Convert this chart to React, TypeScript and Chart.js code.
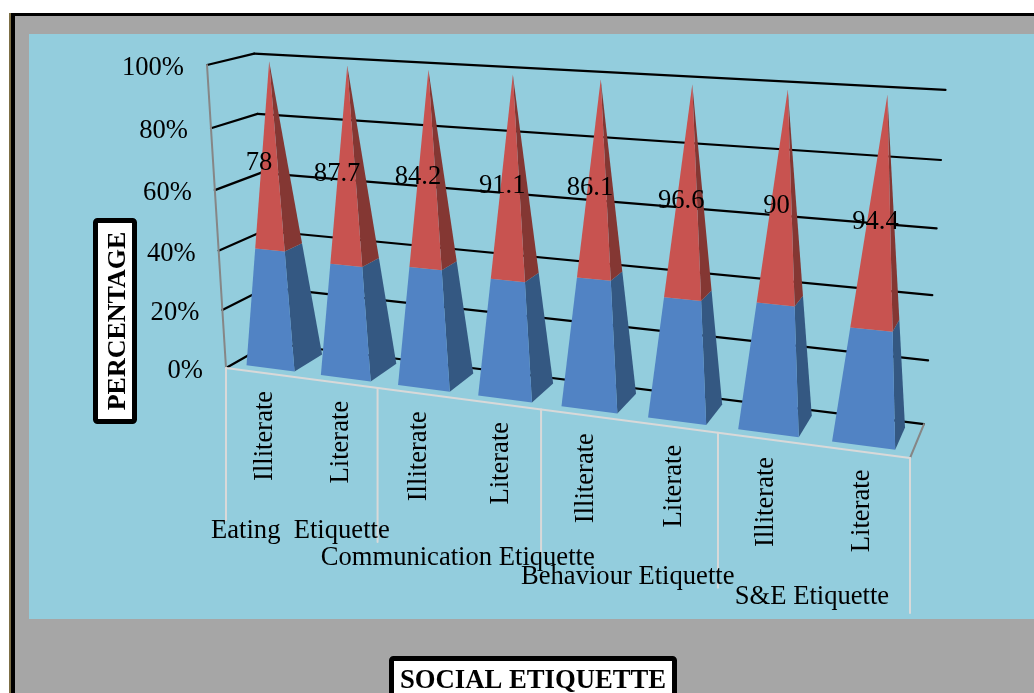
import { useEffect, useRef } from "react";
import { Chart, registerables } from "chart.js";

Chart.register(...registerables);

// Two-level category axis
const groupNames = ["Eating  Etiquette", "Communication Etiquette", "Behaviour Etiquette", "S&E Etiquette"];
const categories = ["Illiterate", "Literate", "Illiterate", "Literate", "Illiterate", "Literate", "Illiterate", "Literate"];

// Series values; each pyramid is normalised to 100%
const lowerValues = [50.7, 51.3, 52.7, 54.4, 58.6, 57.2, 56.1, 48.6];
const upperValues = [78, 87.7, 84.2, 91.1, 86.1, 96.6, 90, 94.4];

const totals = upperValues.map((v, i) => v + lowerValues[i]);
const lowerShare = lowerValues.map((v, i) => (v / totals[i]) * 100);
const upperShare = upperValues.map((v, i) => (v / totals[i]) * 100);

const SERIF = '"Liberation Serif", "Times New Roman", serif';
const FONT = `26.6px ${SERIF}`;

// Perspective camera: screen corners of the plot box and the homogeneous weights along each axis
const origin = { x: 226, y: 368 };
const uEnd = { x: 910, y: 458 };
const vEnd = { x: 207, y: 65 };
const wEnd = { x: 270, y: 343 };
const weightU = -0.146;
const weightV = -0.052;
const weightW = 0.049;

const axisVector = (end: { x: number; y: number }, weight: number) => ({
  x: end.x * (1 + weight) - origin.x,
  y: end.y * (1 + weight) - origin.y,
});
const vecU = axisVector(uEnd, weightU);
const vecV = axisVector(vEnd, weightV);
const vecW = axisVector(wEnd, weightW);

function project(u: number, v: number, w: number) {
  const d = 1 + weightU * u + weightV * v + weightW * w;
  return {
    x: (origin.x + vecU.x * u + vecV.x * v + vecW.x * w) / d,
    y: (origin.y + vecU.y * u + vecV.y * v + vecW.y * w) / d,
  };
}

type Pt = { x: number; y: number };

function poly(ctx: CanvasRenderingContext2D, pts: Pt[], fill: string) {
  ctx.beginPath();
  pts.forEach((p, i) => (i ? ctx.lineTo(p.x, p.y) : ctx.moveTo(p.x, p.y)));
  ctx.closePath();
  ctx.fillStyle = fill;
  ctx.fill();
}

function segment(ctx: CanvasRenderingContext2D, a: Pt, b: Pt, color: string, width: number) {
  ctx.beginPath();
  ctx.moveTo(a.x, a.y);
  ctx.lineTo(b.x, b.y);
  ctx.strokeStyle = color;
  ctx.lineWidth = width;
  ctx.stroke();
}

function titleBox(ctx: CanvasRenderingContext2D, x: number, y: number, w: number, h: number) {
  ctx.beginPath();
  ctx.roundRect(x + 2.5, y + 2.5, w - 5, h - 5, 2);
  ctx.fillStyle = "#ffffff";
  ctx.fill();
  ctx.strokeStyle = "#000000";
  ctx.lineWidth = 5;
  ctx.stroke();
}

const DEPTH_CENTER = 0.5;
const DEPTH_HALF = 0.33;

const pyramidPlugin = {
  id: "pyramid3d",
  beforeDraw(chart: any) {
    const { ctx, width, height } = chart;
    ctx.save();
    ctx.fillStyle = "#ffffff";
    ctx.fillRect(0, 0, width, height);
    ctx.fillStyle = "#a6a6a6";
    ctx.fillRect(14, 15, width - 14, height - 15);
    ctx.fillStyle = "#000000";
    ctx.fillRect(11, 13, width - 11, 3);
    ctx.fillRect(11, 13, 4, height - 13);
    ctx.fillStyle = "#7d6f45";
    ctx.fillRect(9, 13, 2, height - 13);
    ctx.fillStyle = "#93cddd";
    ctx.fillRect(29, 34, width - 29, 585);
    ctx.restore();
  },
  // The bars are laid out by Chart.js; their geometry is then drawn through the camera.
  beforeDatasetsDraw(chart: any) {
    const { ctx, chartArea: area } = chart;
    const yScale = chart.scales.y;
    const toV = (py: number) => (area.bottom - py) / (area.bottom - area.top);
    const toU = (px: number) => (px - area.left) / (area.right - area.left);

    ctx.save();
    ctx.lineCap = "round";

    // Walls and gridlines
    yScale.ticks.forEach((tick: any) => {
      const v = toV(yScale.getPixelForValue(tick.value));
      const front = project(0, v, 0);
      const corner = project(0, v, 1);
      const far = project(1, v, 1);
      segment(ctx, front, corner, "#000000", 2.2);
      segment(ctx, corner, far, "#000000", 2.2);
      ctx.font = FONT;
      ctx.fillStyle = "#000000";
      ctx.textAlign = "right";
      ctx.textBaseline = "middle";
      ctx.fillText(tick.label, front.x - 23, front.y + 3);
    });
    segment(ctx, project(0, 0, 0), project(0, 1, 0), "#868686", 2);
    segment(ctx, project(1, 0, 0), project(1, 0, 1), "#868686", 2);

    // Group dividers below the floor
    const dividerLengths = [152, 154, 146, 155, 155];
    dividerLengths.forEach((len, g) => {
      const top = project(g / 4, 0, 0);
      segment(ctx, top, { x: top.x, y: top.y + len }, "#d9d9d9", 2);
    });
    segment(ctx, project(0, 0, 0), project(1, 0, 0), "#d9d9d9", 2);

    // Pyramids, left to right, stack by stack
    const labelSpots: { x: number; y: number; text: string }[] = [];
    categories.forEach((_, i) => {
      chart.data.datasets.forEach((ds: any, d: number) => {
        const el = chart.getDatasetMeta(d).data[i];
        const uc = toU(el.x);
        const du = el.width / (area.right - area.left) / 2;
        const v0 = toV(el.base);
        const v1 = toV(el.y);
        const t0 = 1 - v0;
        const t1 = 1 - v1;
        const wc = DEPTH_CENTER;
        const dw = DEPTH_HALF;
        poly(
          ctx,
          [
            project(uc + du * t0, v0, wc - dw * t0),
            project(uc + du * t0, v0, wc + dw * t0),
            project(uc + du * t1, v1, wc + dw * t1),
            project(uc + du * t1, v1, wc - dw * t1),
          ],
          ds.borderColor
        );
        poly(
          ctx,
          [
            project(uc - du * t0, v0, wc - dw * t0),
            project(uc + du * t0, v0, wc - dw * t0),
            project(uc + du * t1, v1, wc - dw * t1),
            project(uc - du * t1, v1, wc - dw * t1),
          ],
          ds.backgroundColor
        );
        if (d === 1) {
          const spot = project(uc, (v0 + v1) / 2, wc - dw);
          labelSpots.push({ x: spot.x, y: spot.y, text: String(upperValues[i]) });
        }
      });
    });

    ctx.fillStyle = "#000000";
    ctx.font = FONT;
    ctx.textAlign = "center";
    ctx.textBaseline = "middle";
    labelSpots.forEach((s) => ctx.fillText(s.text, s.x, s.y + 3));

    // Category labels, rotated, hanging under the floor
    const xScale = chart.scales.x;
    categories.forEach((name, i) => {
      const p = project(toU(xScale.getPixelForValue(i)), 0, 0);
      ctx.save();
      ctx.translate(p.x + 2, p.y + 18);
      ctx.rotate(-Math.PI / 2);
      ctx.textAlign = "right";
      ctx.textBaseline = "middle";
      ctx.fillText(name, 0, 0);
      ctx.restore();
    });

    // Group labels
    const groupOffsets = [153, 160, 156, 152];
    groupNames.forEach((name, g) => {
      const p = project((g + 0.5) / 4, 0, 0);
      ctx.textAlign = "center";
      ctx.fillText(name, p.x, p.y + groupOffsets[g]);
    });

    // Axis titles
    titleBox(ctx, 93, 218, 44, 206);
    ctx.save();
    ctx.translate(118, 321);
    ctx.rotate(-Math.PI / 2);
    ctx.font = `bold 26px ${SERIF}`;
    ctx.fillStyle = "#000000";
    ctx.fillText("PERCENTAGE", 0, 0);
    ctx.restore();

    titleBox(ctx, 389, 656, 288, 50);
    ctx.font = `bold 26.7px ${SERIF}`;
    ctx.fillStyle = "#000000";
    ctx.fillText("SOCIAL ETIQUETTE", 533, 681);

    ctx.restore();
    return false;
  },
};

export default function App() {
  const canvasRef = useRef<HTMLCanvasElement>(null);

  useEffect(() => {
    const chart = new Chart(canvasRef.current as HTMLCanvasElement, {
      type: "bar",
      data: {
        labels: categories,
        datasets: [
          { label: "Lower", data: lowerShare, backgroundColor: "#5183c4", borderColor: "#345882" },
          { label: "Upper", data: upperShare, backgroundColor: "#c85350", borderColor: "#843733" },
        ],
      },
      options: {
        responsive: false,
        animation: false,
        barPercentage: 0.65,
        categoryPercentage: 1,
        layout: { padding: 0 },
        plugins: { legend: { display: false }, tooltip: { enabled: false } },
        scales: {
          x: {
            stacked: true,
            grid: { display: false },
            border: { display: false },
            ticks: { display: false },
          },
          y: {
            stacked: true,
            min: 0,
            max: 100,
            grid: { display: false },
            border: { display: false },
            ticks: { display: false, stepSize: 20, callback: (v: any) => `${v}%` },
          },
        },
      },
      plugins: [pyramidPlugin],
    } as any);
    return () => chart.destroy();
  }, []);

  return (
    <canvas
      ref={canvasRef}
      width={1034}
      height={693}
      style={{ position: "absolute", left: 0, top: 0, display: "block" }}
    />
  );
}
